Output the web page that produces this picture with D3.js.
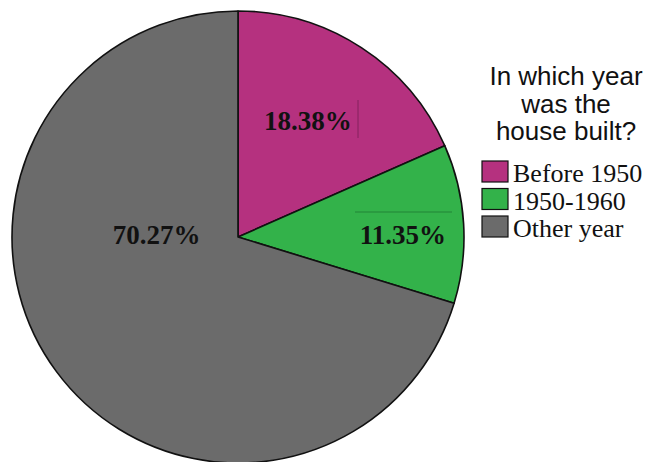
<!DOCTYPE html>
<html>
<head>
<meta charset="utf-8">
<script src="https://cdn.jsdelivr.net/npm/d3@7"></script>
<style>
  body { margin: 0; background: #fff; }
</style>
</head>
<body>
<div id="chart"></div>
<script>
// data
var categories = ["Before 1950", "1950-1960", "Other year"];
var values = [18.38, 11.35, 70.27];
var labels = ["18.38%", "11.35%", "70.27%"];
var colors = ["#b5317f", "#33b24a", "#6b6b6b"];
var titleLines = ["In which year", "was the", "house built?"];

var width = 651, height = 462;
var cx = 238, cy = 237, radius = 226;

var svg = d3.select("#chart").append("svg")
    .attr("width", width)
    .attr("height", height);

var pie = d3.pie().sort(null).value(function(d) { return d; });
var arc = d3.arc().innerRadius(0).outerRadius(radius);
var arcs = pie(values);

var g = svg.append("g").attr("transform", "translate(" + cx + "," + cy + ")");

g.selectAll("path.slice")
    .data(arcs)
  .enter().append("path")
    .attr("class", "slice")
    .attr("d", arc)
    .attr("fill", function(d, i) { return colors[i]; })
    .attr("stroke", "#111")
    .attr("stroke-width", 1.6)
    .attr("stroke-linejoin", "round");

// label placement: angle (deg, clockwise from top) and fraction of radius
var labelAngle = [31, 89, 272];
var labelRadius = [0.6, 0.73, 0.36];
function labelPos(i) {
    var a = labelAngle[i] * Math.PI / 180;
    var r = radius * labelRadius[i];
    return [Math.sin(a) * r, -Math.cos(a) * r];
}

g.selectAll("text.pct")
    .data(arcs)
  .enter().append("text")
    .attr("class", "pct")
    .attr("x", function(d, i) { return labelPos(i)[0]; })
    .attr("y", function(d, i) { return labelPos(i)[1]; })
    .attr("dy", "0.35em")
    .attr("text-anchor", "middle")
    .style("font-family", "'Liberation Serif', 'Times New Roman', serif")
    .style("font-weight", "bold")
    .style("font-size", "27px")
    .attr("fill", "#111")
    .text(function(d, i) { return labels[i]; });

// faint stray lines next to the labels
g.append("line")
    .attr("x1", 120).attr("x2", 120)
    .attr("y1", -137).attr("y2", -99)
    .attr("stroke", "#7a1f55").attr("stroke-width", 0.8);
g.append("line")
    .attr("x1", 117).attr("x2", 214)
    .attr("y1", -25).attr("y2", -25)
    .attr("stroke", "#1f7a33").attr("stroke-width", 0.8);

// legend
var legend = svg.append("g").attr("transform", "translate(566,0)");

legend.selectAll("text.title")
    .data(titleLines)
  .enter().append("text")
    .attr("class", "title")
    .attr("x", 0)
    .attr("y", function(d, i) { return 85 + i * 27.5; })
    .attr("text-anchor", "middle")
    .style("font-family", "'Liberation Sans', Arial, sans-serif")
    .style("font-size", "26px")
    .attr("fill", "#111")
    .text(function(d) { return d; });

var items = svg.append("g").attr("transform", "translate(482,161)");
var row = items.selectAll("g.item")
    .data(categories)
  .enter().append("g")
    .attr("class", "item")
    .attr("transform", function(d, i) { return "translate(0," + (i * 27.5) + ")"; });

row.append("rect")
    .attr("width", 26)
    .attr("height", 21)
    .attr("fill", function(d, i) { return colors[i]; })
    .attr("stroke", "#111")
    .attr("stroke-width", 1.2);

row.append("text")
    .attr("x", 31)
    .attr("y", 21)
    .style("font-family", "'Liberation Serif', 'Times New Roman', serif")
    .style("font-size", "26px")
    .attr("fill", "#111")
    .text(function(d) { return d; });
</script>
</body>
</html>
